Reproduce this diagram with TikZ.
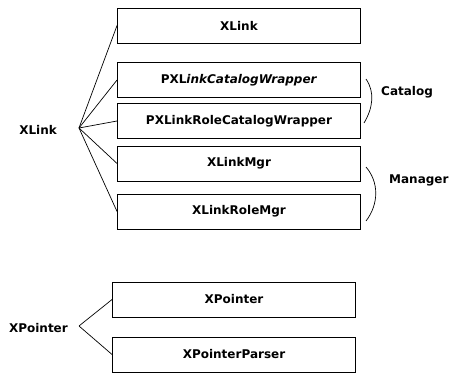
\documentclass[tikz,border=0pt]{standalone}
\usepackage{fontspec}
\setmainfont{DejaVu Sans}
\begin{document}
\begin{tikzpicture}[x=1pt,y=-1pt,
  cls/.style={draw=black,line width=0.9pt,minimum width=243pt,minimum height=35pt,inner sep=0pt,font=\bfseries\fontsize{12}{14}\selectfont},
  lbl/.style={font=\bfseries\fontsize{12}{14}\selectfont,inner sep=0pt},
  link/.style={line width=0.7pt}]
\useasboundingbox (0,0) rectangle (450,374);
% XLink classes
\node[cls] (b1) at (239,25.5) {XLink};
\node[cls] (b2) at (239,80) {PXL\textit{inkCatalogWrapper}};
\node[cls] (b3) at (239,121) {PXLinkRoleCatalogWrapper};
\node[cls] (b4) at (239,163.5) {XLinkMgr};
\node[cls] (b5) at (239,211.5) {XLinkRoleMgr};
% XPointer classes
\node[cls] (b6) at (234,299.5) {XPointer};
\node[cls] (b7) at (234,354.5) {XPointerParser};
% group labels and fan-out points
\node[lbl,anchor=east] (xl) at (57,130) {XLink};
\coordinate (hx) at (79,128);
\node[lbl,anchor=east] (xp) at (68,328) {XPointer};
\coordinate (hp) at (79,326);
\foreach \b in {b1,b2,b3,b4,b5} \draw[link] (hx) -- (\b.west);
\foreach \b in {b6,b7} \draw[link] (hp) -- (\b.west);
% side brackets
\coordinate (c1) at (366,79);
\coordinate (c2) at (364,123);
\draw[link] (c1) .. controls (375,92) and (373,108) .. (c2);
\node[lbl,anchor=west] (cat) at (381,92) {Catalog};
\coordinate (m1) at (366,167);
\coordinate (m2) at (366,221);
\draw[link] (m1) .. controls (379,182) and (379,204) .. (m2);
\node[lbl,anchor=west] (mgr) at (389,180) {Manager};
\end{tikzpicture}
\end{document}
